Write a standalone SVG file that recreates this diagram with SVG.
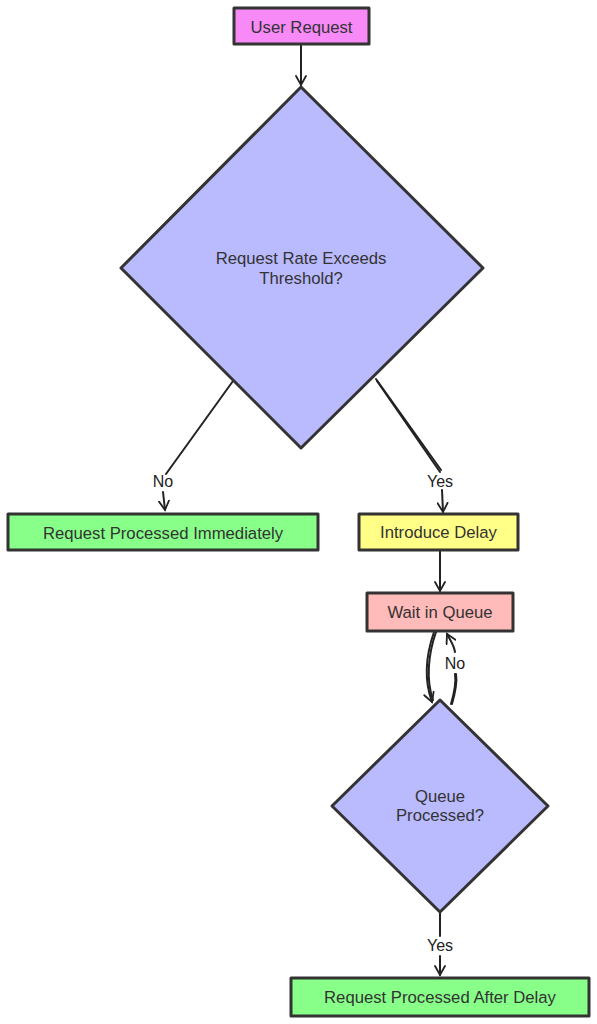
<svg xmlns="http://www.w3.org/2000/svg" width="597" height="1024" viewBox="0 0 597 1024">
<defs>
<marker id="arr" viewBox="0 0 12 12" refX="10" refY="6" markerWidth="12" markerHeight="12" markerUnits="userSpaceOnUse" orient="auto">
<path d="M1,1 L10,6 L1,11" fill="none" stroke="#222" stroke-width="1.8" stroke-linecap="round"/>
</marker>
</defs>
<style>
.node rect, .node polygon { stroke: #333; stroke-width: 3; stroke-linejoin: round; }
.node text { font-family: "Liberation Sans", Arial, sans-serif; font-size: 16.7px; fill: #333; text-anchor: middle; dominant-baseline: central; }
.edge { fill: none; stroke: #222; stroke-width: 2; stroke-linecap: round; }
.lbl { font-family: "Liberation Sans", Arial, sans-serif; font-size: 16px; fill: #222; text-anchor: middle; dominant-baseline: central; }
</style>
<rect width="597" height="1024" fill="#fff"/>
<g id="connectors">
<path class="edge" d="M301,44 L301,85" marker-end="url(#arr)"/>
<path class="edge" d="M233,381 L166,474 M163,492 L165,510" marker-end="url(#arr)"/>
<path class="edge" d="M376,379 L441,470 M442,490 L443,512" marker-end="url(#arr)"/>
<path class="edge" d="M377,381 L440,472"/>
<path class="edge" d="M440,551 L440,591" marker-end="url(#arr)"/>
<path class="edge" d="M434,632 C426,655 424,680 432,702" marker-end="url(#arr)"/>
<path class="edge" d="M436,632 C428,655 426,680 433,700"/>
<path class="edge" d="M451,704 C455,690 456,680 455,674 M455,652 C454,645 450,640 447,634" marker-end="url(#arr)"/>
<path class="edge" d="M452,704 C456,690 457,680 456,674"/>
<path class="edge" d="M440,913 L440,936 M440,956 L440,975" marker-end="url(#arr)"/>
<text class="lbl" x="163" y="481">No</text>
<text class="lbl" x="440" y="481">Yes</text>
<text class="lbl" x="455" y="663">No</text>
<text class="lbl" x="440" y="945">Yes</text>
</g>
<g id="user-request" class="node">
<rect x="234" y="8" width="135" height="36" fill="#f78af7"/>
<text x="301.5" y="27">User Request</text>
</g>
<g id="rate-check" class="node">
<polygon points="301,87 483,268 301,448 121,268" fill="#babaff"/>
<text x="301" y="258">Request Rate Exceeds</text>
<text x="301" y="278">Threshold?</text>
</g>
<g id="processed-immediately" class="node">
<rect x="8" y="514" width="310" height="36" fill="#88ff88"/>
<text x="163" y="533">Request Processed Immediately</text>
</g>
<g id="introduce-delay" class="node">
<rect x="359" y="514" width="159" height="36" fill="#ffff88"/>
<text x="438.5" y="532">Introduce Delay</text>
</g>
<g id="wait-queue" class="node">
<rect x="367" y="593" width="146" height="38" fill="#ffbaba"/>
<text x="440" y="612">Wait in Queue</text>
</g>
<g id="queue-check" class="node">
<polygon points="440,700 548,806 440,912 332,806" fill="#babaff"/>
<text x="440" y="796">Queue</text>
<text x="440" y="815">Processed?</text>
</g>
<g id="processed-after" class="node">
<rect x="291" y="978" width="298" height="38" fill="#88ff88"/>
<text x="440" y="997">Request Processed After Delay</text>
</g>
</svg>
